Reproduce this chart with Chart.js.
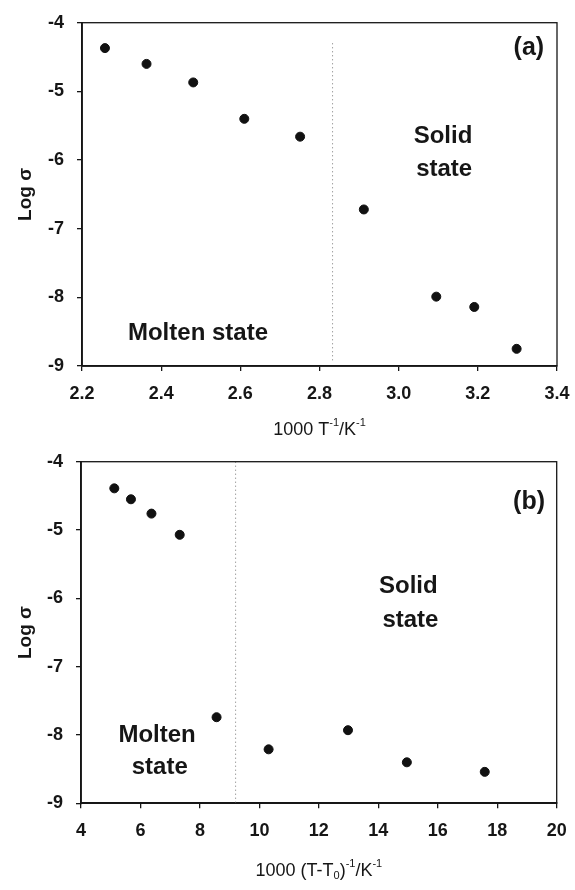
<!DOCTYPE html>
<html>
<head>
<meta charset="utf-8">
<script src="https://cdn.jsdelivr.net/npm/chart.js@4.4.1/dist/chart.umd.min.js"></script>
<style>
  html, body { margin: 0; padding: 0; background: #fff; overflow: hidden; }
  #wrap { position: relative; width: 575px; height: 890px; }
  canvas { position: absolute; left: 0; }
  #chartA { top: 0; }
  #chartB { top: 430px; }
</style>
</head>
<body>
<div id="wrap">
  <canvas id="chartA" width="575" height="450"></canvas>
  <canvas id="chartB" width="575" height="460"></canvas>
</div>
<script>
// panel (a): log sigma vs 1000/T
const invTempA = [2.258, 2.363, 2.481, 2.610, 2.751, 2.912, 3.095, 3.191, 3.298];
const logSigmaA = [-4.37, -4.60, -4.87, -5.40, -5.66, -6.72, -7.99, -8.14, -8.75];
const boundaryXA = [2.833, 2.833];
const boundaryYA = [-4.3, -8.94];

// panel (b): log sigma vs 1000/(T-T0)
const invTempB = [5.12, 5.68, 6.37, 7.32, 8.56, 10.31, 12.98, 14.96, 17.58];
const logSigmaB = [-4.39, -4.55, -4.76, -5.07, -7.74, -8.21, -7.93, -8.40, -8.54];
const boundaryXB = [9.20, 9.20];
const boundaryYB = [-4.0, -9.0];

const yMin = -9, yMax = -4;
const FONT = "'Liberation Sans', Arial, sans-serif";
const INK = '#161616';

function toPoints(xs, ys) {
  return xs.map((x, i) => ({ x: x, y: ys[i] }));
}

// draws a string made of normal / superscript / subscript runs, centered
function drawRuns(ctx, runs, cx, cy, size) {
  const small = Math.round(size * 0.62);
  let total = 0;
  runs.forEach(r => {
    ctx.font = (r.sup || r.sub ? small : size) + 'px ' + FONT;
    r.w = ctx.measureText(r.t).width;
    total += r.w;
  });
  let x = cx - total / 2;
  ctx.textBaseline = 'middle';
  ctx.textAlign = 'left';
  runs.forEach(r => {
    ctx.font = (r.sup || r.sub ? small : size) + 'px ' + FONT;
    let dy = 0;
    if (r.sup) dy = -size * 0.38;
    if (r.sub) dy = size * 0.3;
    ctx.fillText(r.t, x, cy + dy);
    x += r.w;
  });
}

const panelPlugin = {
  id: 'panel',
  afterDraw(chart, args, opts) {
    const { ctx, chartArea, scales } = chart;
    ctx.save();
    // frame around the plot
    ctx.strokeStyle = INK;
    ctx.lineWidth = 1.3;
    ctx.strokeRect(chartArea.left, chartArea.top,
      chartArea.right - chartArea.left, chartArea.bottom - chartArea.top);
    // text notes in data coordinates
    ctx.fillStyle = INK;
    ctx.textAlign = 'center';
    ctx.textBaseline = 'middle';
    opts.notes.forEach(n => {
      ctx.font = 'bold ' + n.size + 'px ' + FONT;
      ctx.fillText(n.text, scales.x.getPixelForValue(n.x), scales.y.getPixelForValue(n.y));
    });
    // x axis title with super/subscripts
    drawRuns(ctx, opts.xTitle, (chartArea.left + chartArea.right) / 2, opts.xTitleY, 18);
    ctx.restore();
  }
};

function noOverflow(s) {
  s.paddingLeft = 0;
  s.paddingRight = 0;
  s.paddingTop = 0;
  s.paddingBottom = 0;
}

function makeChart(id, xs, ys, bx, by, xMin, xMax, xStep, xDigits, area, notes, xTitle, xTitleY) {
  return new Chart(document.getElementById(id), {
    type: 'scatter',
    data: {
      datasets: [
        {
          data: toPoints(xs, ys),
          backgroundColor: '#111',
          borderColor: '#111',
          pointRadius: 4.5,
          pointHoverRadius: 4.5
        },
        {
          type: 'line',
          data: toPoints(bx, by),
          borderColor: '#777',
          borderWidth: 1,
          borderDash: [1, 3],
          pointRadius: 0,
          fill: false
        }
      ]
    },
    options: {
      responsive: false,
      devicePixelRatio: 1,
      animation: false,
      layout: { padding: { left: 0, right: area.right, top: area.top, bottom: 0 } },
      plugins: {
        legend: { display: false },
        tooltip: { enabled: false },
        panel: { notes: notes, xTitle: xTitle, xTitleY: xTitleY }
      },
      scales: {
        x: {
          type: 'linear',
          min: xMin,
          max: xMax,
          afterFit: (s) => { s.height = area.xAxisHeight; noOverflow(s); },
          ticks: {
            stepSize: xStep,
            color: INK,
            padding: 12,
            font: { family: FONT, size: 18, weight: 'bold' },
            callback: (v) => Number(v).toFixed(xDigits)
          },
          grid: { drawOnChartArea: false, drawTicks: true, tickLength: 5, color: INK, lineWidth: 1.3 },
          border: { display: true, color: INK, width: 1.8 }
        },
        y: {
          type: 'linear',
          min: yMin,
          max: yMax,
          afterFit: (s) => { s.width = area.left; noOverflow(s); },
          ticks: {
            stepSize: 1,
            color: INK,
            padding: 13,
            font: { family: FONT, size: 18, weight: 'bold' }
          },
          grid: { drawOnChartArea: false, drawTicks: true, tickLength: 5, color: INK, lineWidth: 1.3 },
          border: { display: true, color: INK, width: 1.8 },
          title: {
            display: true,
            text: 'Log σ',
            color: INK,
            padding: { top: 14, bottom: 0 },
            font: { family: FONT, size: 19, weight: 'bold' }
          }
        }
      }
    },
    plugins: [panelPlugin]
  });
}

makeChart('chartA', invTempA, logSigmaA, boundaryXA, boundaryYA, 2.2, 3.4, 0.2, 1,
  { left: 82, right: 18, top: 22.7, xAxisHeight: 84 },
  [
    { text: '(a)', x: 3.329, y: -4.37, size: 25 },
    { text: 'Solid', x: 3.112, y: -5.66, size: 24 },
    { text: 'state', x: 3.115, y: -6.14, size: 24 },
    { text: 'Molten state', x: 2.493, y: -8.52, size: 24 }
  ],
  [{ t: '1000 T' }, { t: '-1', sup: true }, { t: '/K' }, { t: '-1', sup: true }],
  430);

makeChart('chartB', invTempB, logSigmaB, boundaryXB, boundaryYB, 4, 20, 2, 0,
  { left: 81, right: 18.3, top: 31.7, xAxisHeight: 86.7 },
  [
    { text: '(b)', x: 19.07, y: -4.59, size: 25 },
    { text: 'Solid', x: 15.01, y: -5.83, size: 24 },
    { text: 'state', x: 15.08, y: -6.32, size: 24 },
    { text: 'Molten', x: 6.56, y: -8.0, size: 24 },
    { text: 'state', x: 6.65, y: -8.47, size: 24 }
  ],
  [{ t: '1000 (T-T' }, { t: '0', sub: true }, { t: ')' }, { t: '-1', sup: true }, { t: '/K' }, { t: '-1', sup: true }],
  441);
</script>
</body>
</html>
